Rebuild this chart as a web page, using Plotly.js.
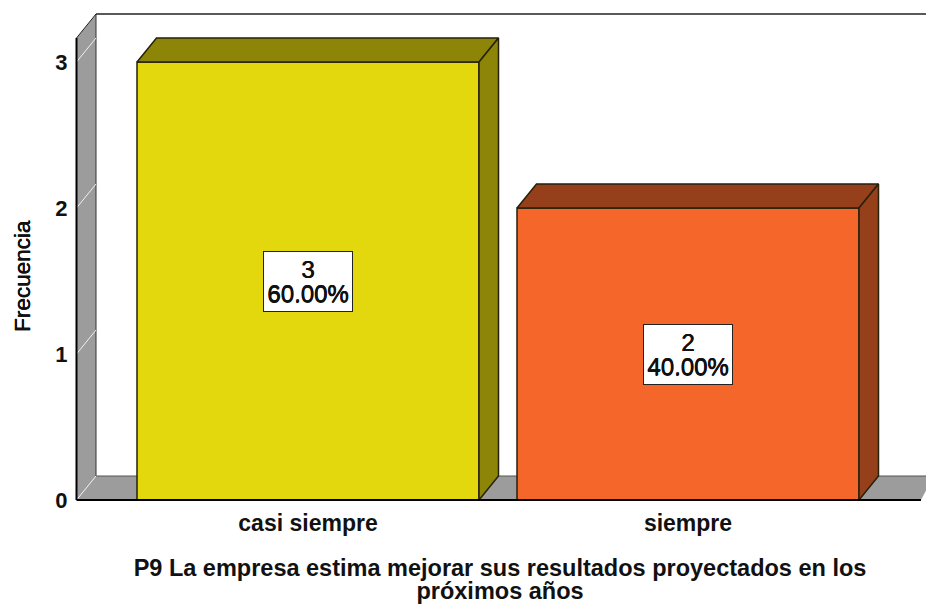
<!DOCTYPE html>
<html><head><meta charset="utf-8">
<script src="https://cdn.plot.ly/plotly-3.0.0.min.js"></script>
<style>html,body{margin:0;padding:0;background:#fff}</style></head>
<body><div id="c" style="width:926px;height:604px"></div>
<script>
const categories = ["casi siempre", "siempre"];
const counts = [3, 2];
const percents = ["60.00", "40.00"];
const frontColors = ["#E3D80E", "#F5662B"];
const topColors = ["#8C8508", "#963F1B"];
const yTicks = [0, 1, 2, 3];
const xTitleLines = ["P9 La empresa estima mejorar sus resultados proyectados en los", "próximos años"];
const yTitle = "Frecuencia";

const W = 926, H = 604, ml = 74, mr = 0, mt = 12, mb = 100;
const pxPerCat = 380, pxPerUnit = 146, c0px = 308, y0px = 500;
const x0 = (ml - c0px) / pxPerCat, x1 = (W - mr - c0px) / pxPerCat;
const y0 = (y0px - (H - mb)) / pxPerUnit, y1 = (y0px - mt) / pxPerUnit;
const dx = 19.5 / pxPerCat, dy = 24 / pxPerUnit, bw = 342 / pxPerCat;
const xs = categories.map((_, i) => i);
const edge = "#26210a";

const traces = [{
  type: "bar", x: xs, y: counts, width: bw, hoverinfo: "skip",
  marker: {color: frontColors, line: {color: edge, width: 1.5}}
}];
categories.forEach((_, i) => {
  const l = i - bw / 2, r = i + bw / 2, v = counts[i];
  traces.push({type: "scatter", mode: "lines", fill: "toself", hoverinfo: "skip",
    x: [l, l + dx, r + dx, r, l], y: [v, v + dy, v + dy, v, v],
    fillcolor: topColors[i], line: {color: edge, width: 1.5}});
  traces.push({type: "scatter", mode: "lines", fill: "toself", hoverinfo: "skip",
    x: [r, r + dx, r + dx, r, r], y: [0, dy, v + dy, v, 0],
    fillcolor: topColors[i], line: {color: edge, width: 1.5}});
});

const wx = x0 + 2.5 / pxPerCat;
const wallPath = (a) => a.map((p, i) => (i ? "L" : "M") + p[0] + "," + p[1]).join(" ") + " Z";
const topY = y1 - 2 / pxPerUnit;
const grey = "#9C9C9C";
const floorEnd = (921 - c0px) / pxPerCat;
const shapes = [
  {type: "path", layer: "below", xref: "x", yref: "y", fillcolor: grey, line: {width: 0},
   path: wallPath([[wx, 0], [wx + dx, dy], [wx + dx, topY], [wx, topY - dy]])},
  {type: "path", layer: "below", xref: "x", yref: "y", fillcolor: grey, line: {width: 0},
   path: wallPath([[wx, 0], [wx + dx, dy], [x1 + 0.02, dy], [floorEnd, 0]])},
  {type: "line", layer: "below", xref: "x", yref: "y", x0: wx + dx, x1: x1, y0: topY, y1: topY, line: {color: "#222", width: 1.5}},
  {type: "line", layer: "below", xref: "x", yref: "y", x0: wx + dx, x1: wx + dx, y0: dy, y1: topY, line: {color: "#333", width: 1}},
  {type: "line", layer: "below", xref: "x", yref: "y", x0: wx + dx, x1: x1, y0: dy, y1: dy, line: {color: "#555", width: 1}},
  {type: "line", layer: "below", xref: "x", yref: "y", x0: wx, x1: wx + dx, y0: topY - dy, y1: topY, line: {color: "#222", width: 1}},
  {type: "line", layer: "above", xref: "x", yref: "y", x0: wx, x1: wx, y0: 0, y1: topY - dy, line: {color: "#000", width: 2}},
  {type: "line", layer: "above", xref: "x", yref: "y", x0: wx, x1: floorEnd, y0: 0, y1: 0, line: {color: "#000", width: 2}}
];
yTicks.forEach(t => shapes.push({type: "line", layer: "below", xref: "x", yref: "y",
  x0: wx, x1: wx + dx, y0: t, y1: t + dy, line: {color: "#F0F0F0", width: 1}}));

const fam = "Liberation Sans, Arial, sans-serif";
const ink = "#111";
const medium = "0.4px 0 0 #111, 0 0.3px 0 #111";
const bold = (size) => ({family: fam, color: ink, size, weight: 700});
const sized = (t, s) => '<span style="font-size:' + s + 'px">' + t + '</span>';
const annotations = categories.map((_, i) => ({
  xref: "x", yref: "y", x: i, y: counts[i] / 2, showarrow: false,
  text: sized(counts[i], 24) + "<br>" + sized(percents[i] + "%", 24),
  bgcolor: "#fff", bordercolor: "#222", borderwidth: 1, width: 86, height: 57,
  yshift: -0.5,
  align: "center", valign: "middle",
  font: {family: fam, color: ink, size: 19, shadow: medium}
}));
annotations.push({xref: "paper", yref: "paper", x: (22 - ml) / (W - ml - mr), y: (H - mb - 276) / (H - mb - mt),
  xanchor: "center", yanchor: "middle", showarrow: false, textangle: -90, text: yTitle,
  font: {family: fam, color: ink, size: 22.5, shadow: medium}});

Plotly.newPlot("c", traces, {
  width: W, height: H, showlegend: false, paper_bgcolor: "#fff", plot_bgcolor: "rgba(0,0,0,0)",
  margin: {l: ml, r: mr, t: mt, b: mb, pad: 0},
  xaxis: {range: [x0, x1], tickmode: "array", tickvals: xs, ticktext: categories, showgrid: false, zeroline: false, showline: false,
    ticks: "", ticklabelstandoff: 3, tickfont: bold(23),
    title: {text: sized(xTitleLines[0], 23.5) + "<br>" + sized(xTitleLines[1], 23.5), standoff: 35, font: bold(17.7)}},
  yaxis: {range: [y0, y1], tickmode: "array", tickvals: yTicks, showgrid: false, zeroline: false, showline: false,
    ticks: "outside", ticklen: 1, tickcolor: "rgba(0,0,0,0)", tickfont: bold(22), ticklabelshift: 1.5},
  shapes, annotations
}, {displayModeBar: false, staticPlot: true});
</script></body></html>
